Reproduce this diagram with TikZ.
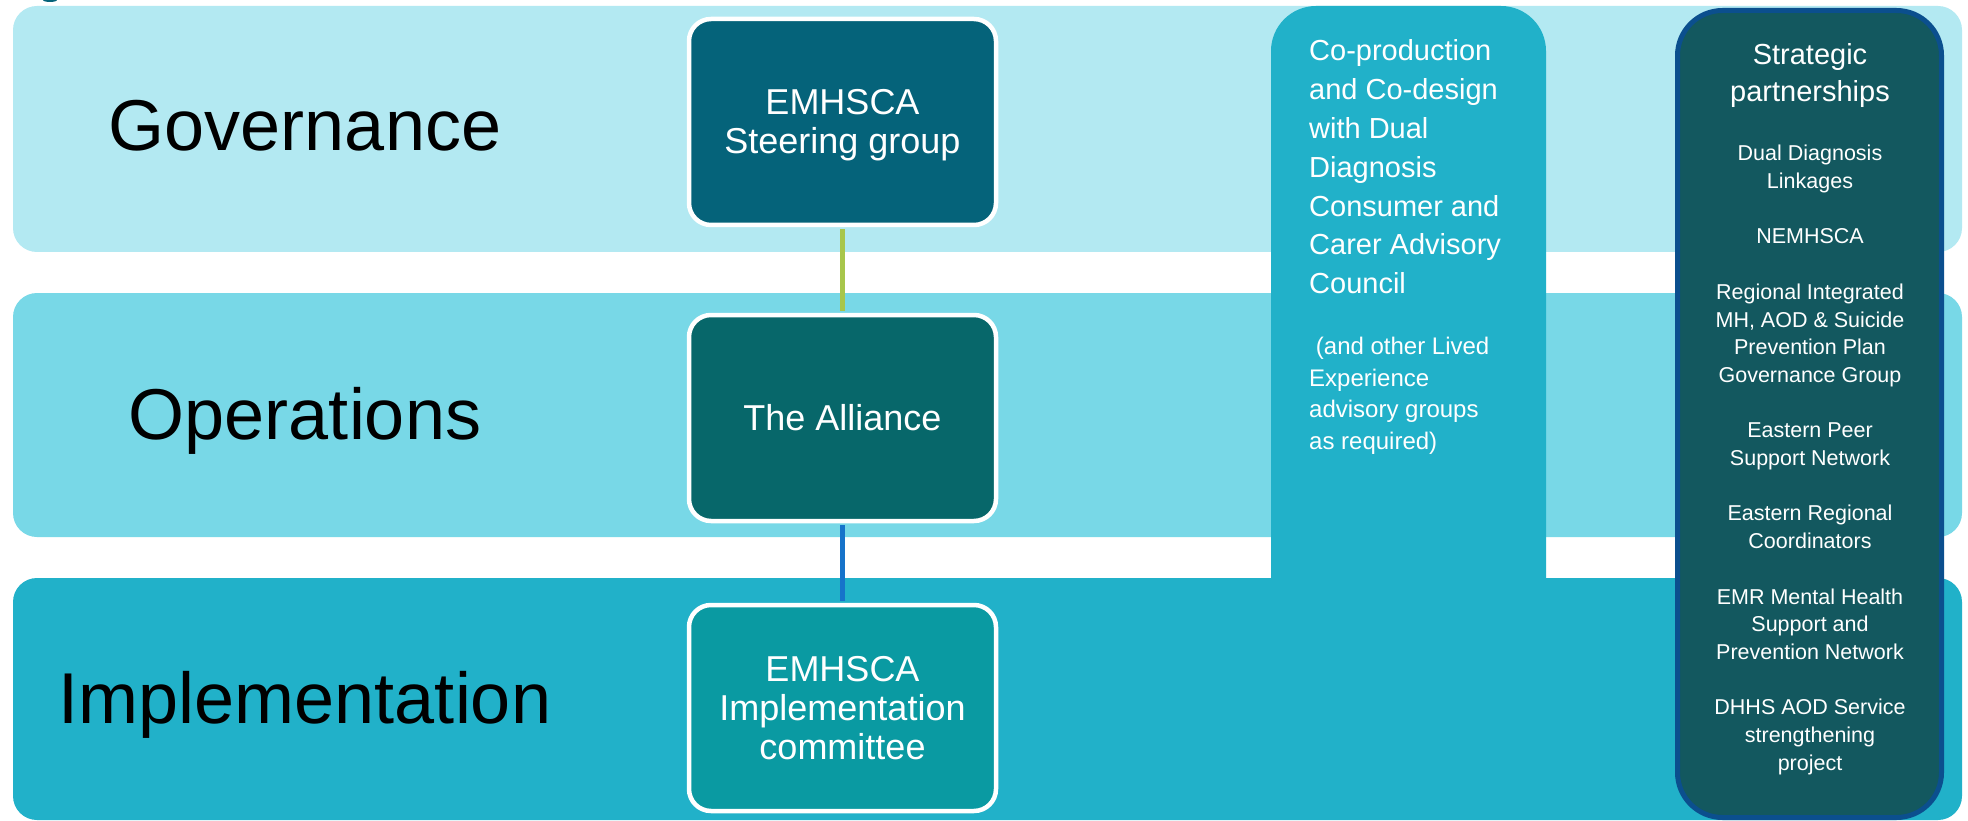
\documentclass[tikz,border=0pt]{standalone}
\usepackage{fontspec}
\setmainfont{Liberation Sans}
\definecolor{bandA}{HTML}{B3E9F2}
\definecolor{bandB}{HTML}{78D8E7}
\definecolor{bandC}{HTML}{21B1C9}
\definecolor{steercol}{HTML}{05637A}
\definecolor{allicol}{HTML}{07676A}
\definecolor{implcol}{HTML}{0A9AA2}
\definecolor{stratfill}{HTML}{13585F}
\definecolor{stratline}{HTML}{0B4F8E}
\definecolor{greenlink}{HTML}{A8C64B}
\definecolor{bluelink}{HTML}{1673CA}
\begin{document}
\begin{tikzpicture}[x=1pt,y=-1pt,
  band/.style={rectangle, rounded corners=24pt, minimum width=1949pt, inner sep=0pt, draw=none},
  orgbox/.style={rectangle, rounded corners=22pt, draw=white, line width=4.5pt, minimum width=307pt, minimum height=206pt, text=white, align=center, font=\fontsize{36}{39}\selectfont, inner sep=0pt},
  lbl/.style={font=\fontsize{72}{86}\selectfont, anchor=base, inner sep=0pt, text=black},
  link/.style={line width=5pt},
  whitetxt/.style={text=white, inner sep=0pt}
]
\useasboundingbox (0,0) rectangle (1968,821);
\fill[white] (0,0) rectangle (1968,821);
\fill[steercol] (50,0) ellipse [x radius=7, y radius=2];

% bands
\node[band, fill=bandA, minimum height=246pt] (band1) at (987.5,129) {};
\node[band, fill=bandB, minimum height=244pt] (band2) at (987.5,415) {};
\node[band, fill=bandC, minimum height=242pt] (band3) at (987.5,699) {};

% side columns
\node[rectangle, rounded corners=45pt, fill=bandC, minimum width=275pt, minimum height=634pt, inner sep=0pt] (coprod) at (1408.5,323) {};
\node[rectangle, rounded corners=45pt, fill=stratfill, draw=stratline, line width=5pt, minimum width=264pt, minimum height=807pt, inner sep=0pt] (strat) at (1809.5,414) {};

% level labels
\node[lbl] (lgov) at (305,151) {Governance};
\node[lbl] (lops) at (305,439) {Operations};
\node[lbl] (limp) at (305,723) {Implementation};

% org boxes
\node[orgbox, fill=steercol] (steer) at (842.5,122) {\rule{0pt}{31pt}EMHSCA\\Steering group};
\node[orgbox, fill=allicol] (alli) at (842.5,418) {The Alliance};
\node[orgbox, fill=implcol] (impl) at (842.5,708) {EMHSCA\\Implementation\\committee};

% connectors
\draw[link, greenlink] ([yshift=-2pt]steer.south) -- ([yshift=2pt]alli.north);
\draw[link, bluelink] ([yshift=-2pt]alli.south) -- ([yshift=2pt]impl.north);

% co-production text
\node[whitetxt, anchor=west, align=left, font=\fontsize{29}{38.8}\selectfont] (cotext) at (1309,167)
  {Co-production\\and Co-design\\with Dual\\Diagnosis\\Consumer and\\Carer Advisory\\Council};
\node[whitetxt, anchor=west, align=left, font=\fontsize{24}{31.5}\selectfont] (cotext2) at (1309,396)
  {\hspace*{0.28em}(and other Lived\\Experience\\advisory groups\\as required)};

% strategic partnerships text
\node[whitetxt, align=center, font=\fontsize{29}{37}\selectfont] (strattitle) at (1810,75.5)
  {Strategic\\partnerships};
\node[whitetxt, align=center, font=\fontsize{21.5}{27.7}\selectfont] (stratlist) at (1810,460)
  {Dual Diagnosis\\Linkages\\[27.7pt]NEMHSCA\\[27.7pt]Regional Integrated\\MH, AOD \& Suicide\\Prevention Plan\\Governance Group\\[27.7pt]Eastern Peer\\Support Network\\[27.7pt]Eastern Regional\\Coordinators\\[27.7pt]EMR Mental Health\\Support and\\Prevention Network\\[27.7pt]DHHS AOD Service\\strengthening\\project};
\end{tikzpicture}
\end{document}
